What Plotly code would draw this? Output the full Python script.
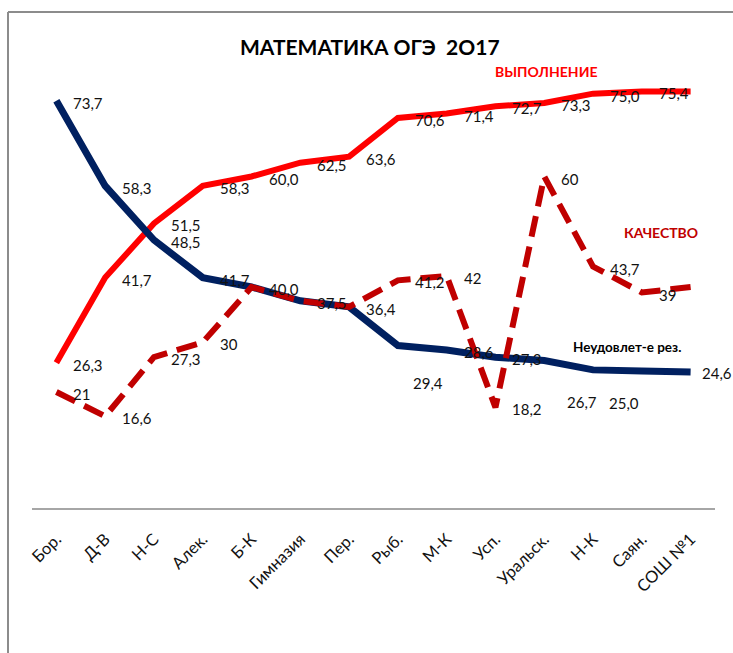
import plotly.graph_objects as go

# ---------------- data ----------------
categories = ["Бор.", "Д-В", "Н-С", "Алек.", "Б-К", "Гимназия", "Пер.", "Рыб.",
              "М-К", "Усп.", "Уральск.", "Н-К", "Саян.", "СОШ №1"]
vypolnenie = [26.3, 41.7, 51.5, 58.3, 60.0, 62.5, 63.6, 70.6, 71.4, 72.7, 73.3, 75.0, 75.4, 75.4]
kachestvo = [21, 16.6, 27.3, 30, 40.0, 37.5, 36.4, 41.2, 42, 18.2, 60, 43.7, 39, 40]
neudovl = [73.7, 58.3, 48.5, 41.7, 40.0, 37.5, 36.4, 29.4, 28.6, 27.3, 26.7, 25.0, 24.8, 24.6]

# which points carry a visible data label
show_vyp = [True] * 13 + [False]
show_kach = [True, True, True, True, False, False, False, True, True, True, True, True, True, False]
show_neu = [True] * 12 + [False, True]

title_text = "МАТЕМАТИКА ОГЭ\u00a0\u00a02О17"
name_vyp = "ВЫПОЛНЕНИЕ"
name_kach = "КАЧЕСТВО"
name_neu = "Неудовлет-е рез."

# ---------------- layout geometry ----------------
W, H = 733, 653
ML, MR, MT, MB = 32, 18, 66, 145
PW, PH = W - ML - MR, H - MT - MB


def px(xp):
    return (xp - ML) / PW


def py(yp):
    return (H - MB - yp) / PH


FONT = "Lato, Carlito, Calibri, sans-serif"
RED = "#FF0000"
DRED = "#C00000"
NAVY = "#002060"


def fmt1(v):
    return f"{v:.1f}".replace(".", ",")


def fmtg(v):
    return f"{v:g}".replace(".", ",")


fig = go.Figure()
fig.add_trace(go.Scatter(x=categories, y=vypolnenie, mode="lines",
                         line=dict(color=RED, width=6), name=name_vyp))
fig.add_trace(go.Scatter(x=categories, y=neudovl, mode="lines",
                         line=dict(color=NAVY, width=7), name=name_neu))
fig.add_trace(go.Scatter(x=categories, y=kachestvo, mode="lines",
                         line=dict(color=DRED, width=6, dash="21px,10px"), name=name_kach))

annotations = []
# manually moved label offsets: index -> (dx, dy) in px of label centre from point
moved_neu = {7: (30, 37), 10: (38, 42), 11: (31, 33), 13: (26, 1)}


def add_labels(values, show, fmt, moved=None):
    moved = moved or {}
    for i, (c, v, s) in enumerate(zip(categories, values, show)):
        if not s:
            continue
        if i in moved:
            dx, dy = moved[i]
            annotations.append(dict(x=c, y=v, xref="x", yref="y", text=fmt(v), showarrow=False,
                                    xanchor="center", yanchor="middle", xshift=dx, yshift=-dy,
                                    font=dict(family=FONT, size=15, color="#111111")))
        else:
            annotations.append(dict(x=c, y=v, xref="x", yref="y", text=fmt(v), showarrow=False,
                                    xanchor="left", yanchor="middle", xshift=15, yshift=-2,
                                    font=dict(family=FONT, size=15, color="#111111")))


add_labels(vypolnenie, show_vyp, fmt1)
add_labels(neudovl, show_neu, fmt1, moved_neu)
add_labels(kachestvo, show_kach, fmtg)

# title and series captions
annotations.append(dict(x=px(370), y=py(47), xref="paper", yref="paper", text=f"<b>{title_text}</b>",
                        showarrow=False, xanchor="center", yanchor="middle",
                        font=dict(family=FONT, size=21, color="#000000")))
annotations.append(dict(x=px(546), y=py(72), xref="paper", yref="paper", text=f"<b>{name_vyp}</b>",
                        showarrow=False, xanchor="center", yanchor="middle",
                        font=dict(family=FONT, size=14, color=RED)))
annotations.append(dict(x=px(661), y=py(232), xref="paper", yref="paper", text=f"<b>{name_kach}</b>",
                        showarrow=False, xanchor="center", yanchor="middle",
                        font=dict(family=FONT, size=14, color=DRED)))
annotations.append(dict(x=px(627), y=py(347), xref="paper", yref="paper", text=f"<b>{name_neu}</b>",
                        showarrow=False, xanchor="center", yanchor="middle",
                        font=dict(family=FONT, size=13.5, color="#000000")))

shapes = [
    dict(type="line", xref="paper", yref="paper", x0=px(8), x1=px(8), y0=py(660), y1=py(12),
         line=dict(color="#8C8C8C", width=2)),
    dict(type="line", xref="paper", yref="paper", x0=px(8), x1=px(740), y0=py(12), y1=py(12),
         line=dict(color="#8C8C8C", width=2)),
]

fig.update_layout(
    width=W, height=H,
    margin=dict(l=ML, r=MR, t=MT, b=MB, pad=0),
    paper_bgcolor="white", plot_bgcolor="white",
    showlegend=False,
    annotations=annotations,
    shapes=shapes,
    xaxis=dict(type="category", range=[-0.5, len(categories) - 0.5], showgrid=False, zeroline=False,
               showline=True, linecolor="#A6A6A6", linewidth=2, ticks="", tickangle=-45,
               ticklabelstandoff=13,
               tickfont=dict(family=FONT, size=16.5, color="#111111")),
    yaxis=dict(range=[0, 80], showgrid=False, zeroline=False, showline=False,
               showticklabels=False, ticks=""),
)

fig.write_html("out.html", config={"displayModeBar": False},
               post_script="document.body.style.margin='0';document.body.style.overflow='hidden';")
